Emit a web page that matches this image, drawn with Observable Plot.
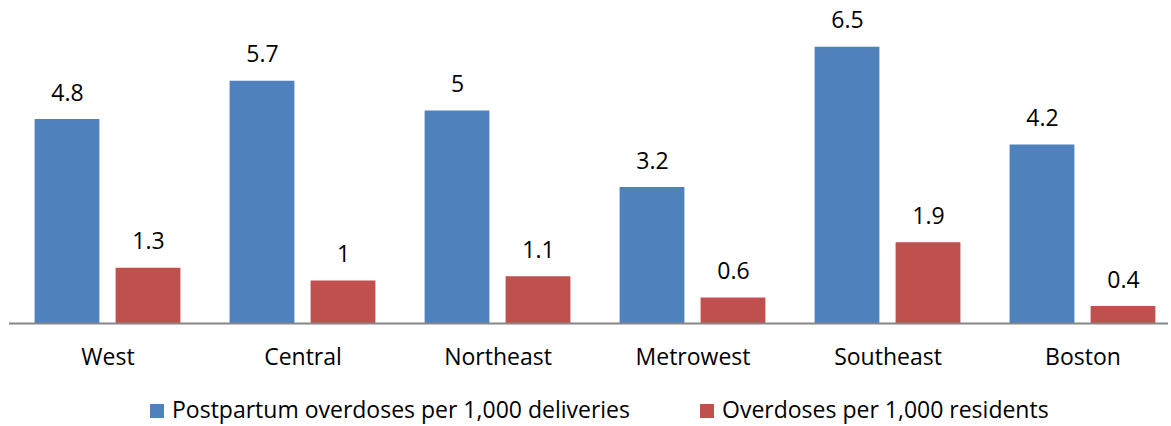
<!DOCTYPE html>
<html>
<head>
<meta charset="utf-8">
<script src="https://cdn.jsdelivr.net/npm/d3@7"></script>
<script src="https://cdn.jsdelivr.net/npm/@observablehq/plot@0.6"></script>
<style>
  body { margin: 0; background: #fff; font-family: "Open Sans", sans-serif; }
  #wrap { position: relative; width: 1171px; height: 426px; overflow: hidden; }
  .legend { position: absolute; left: 150px; top: 398px; display: flex; align-items: center; font-size: 23px; color: #000; line-height: 1; }
  .legend .item { display: flex; align-items: center; }
  .legend .sw { width: 14px; height: 14px; margin-right: 8px; margin-top: 2px; }
</style>
</head>
<body>
<div id="wrap"></div>
<script>
// Regional overdose rates
const regions = ["West", "Central", "Northeast", "Metrowest", "Southeast", "Boston"];
const postpartum = [4.8, 5.7, 5, 3.2, 6.5, 4.2];   // per 1,000 deliveries
const residents = [1.3, 1, 1.1, 0.6, 1.9, 0.4];     // per 1,000 residents
const seriesNames = ["Postpartum overdoses per 1,000 deliveries", "Overdoses per 1,000 residents"];
const seriesColors = ["#4F81BD", "#C0504D"];

const rowsA = regions.map((r, i) => ({region: r, series: seriesNames[0], value: postpartum[i]}));
const rowsB = regions.map((r, i) => ({region: r, series: seriesNames[1], value: residents[i]}));

const font = "'Open Sans', sans-serif";

const chart = Plot.plot({
  width: 1171,
  height: 390,
  marginLeft: 9,
  marginRight: 3,
  marginTop: 0,
  marginBottom: 67,
  style: {fontFamily: font, background: "#fff", color: "#000"},
  x: {domain: regions, range: [9.4, 1180.6], padding: 0, axis: null},
  y: {domain: [0, 7.6], axis: null},
  marks: [
    Plot.barY(rowsA, {x: "region", y: "value", fill: seriesColors[0], insetLeft: 24.6, insetRight: 105.6}),
    Plot.barY(rowsB, {x: "region", y: "value", fill: seriesColors[1], insetLeft: 105.6, insetRight: 24.6}),
    Plot.text(rowsA, {x: "region", y: "value", text: d => String(d.value), dx: -40.5, dy: -19, lineAnchor: "bottom", fontSize: 23, fill: "#000"}),
    Plot.text(rowsB, {x: "region", y: "value", text: d => String(d.value), dx: 40.5, dy: -19, lineAnchor: "bottom", fontSize: 23, fill: "#000"}),
    Plot.ruleY([0], {stroke: "#868686", strokeWidth: 2}),
    Plot.axisX({tickSize: 0, tickPadding: 25, fontSize: 23, fill: "#000", label: null})
  ]
});

const wrap = document.getElementById("wrap");
wrap.appendChild(chart);

// Legend below the plot
const legend = document.createElement("div");
legend.className = "legend";
seriesNames.forEach((name, i) => {
  const item = document.createElement("div");
  item.className = "item";
  if (i > 0) item.style.marginLeft = "70px";
  const sw = document.createElement("span");
  sw.className = "sw";
  sw.style.background = seriesColors[i];
  const label = document.createElement("span");
  label.textContent = name;
  item.appendChild(sw);
  item.appendChild(label);
  legend.appendChild(item);
});
wrap.appendChild(legend);
</script>
</body>
</html>
